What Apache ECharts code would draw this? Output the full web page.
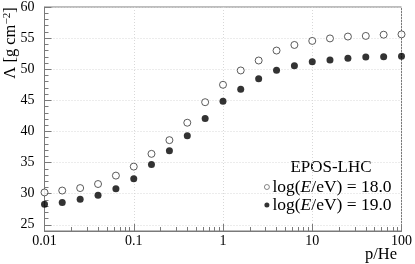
<!DOCTYPE html>
<html>
<head>
<meta charset="utf-8">
<script src="https://cdn.jsdelivr.net/npm/echarts@6/dist/echarts.min.js"></script>
<style>html,body{margin:0;padding:0;background:#fff}#c{width:415px;height:264px}</style>
</head>
<body>
<div id="c"></div>
<script>
// ---- data ----
const xValues = [0.01, 0.0158, 0.0251, 0.0398, 0.0631, 0.1, 0.158, 0.251, 0.398, 0.631, 1, 1.58, 2.51, 3.98, 6.31, 10, 15.8, 25.1, 39.8, 63.1, 100];
const lambda18 = [30.2, 30.5, 30.9, 31.55, 32.9, 34.35, 36.4, 38.6, 41.4, 44.7, 47.5, 49.8, 51.4, 53.0, 53.9, 54.55, 54.95, 55.25, 55.35, 55.55, 55.6];
const lambda19 = [28.3, 28.6, 29.1, 29.75, 30.8, 32.4, 34.7, 36.9, 39.3, 42.1, 44.85, 46.8, 48.45, 49.85, 50.55, 51.2, 51.5, 51.75, 51.95, 52.0, 52.1];
const xMajorTicks = [0.01, 0.1, 1, 10, 100];
const xTickLabels = ['0.01', '0.1', '1', '10', '100'];
const xMinorTicks = [0.02,0.03,0.04,0.05,0.06,0.07,0.08,0.09,0.2,0.3,0.4,0.5,0.6,0.7,0.8,0.9,2,3,4,5,6,7,8,9,20,30,40,50,60,70,80,90];
const yMajorTicks = [25, 30, 35, 40, 45, 50, 55, 60];
const seriesNames = ['log(E/eV) = 18.0', 'log(E/eV) = 19.0'];
const legendTitle = 'EPOS-LHC';

const FONT = 'Liberation Serif';
const AX = '#7a7a7a';
const chart = echarts.init(document.getElementById('c'), null, {renderer: 'canvas'});
const pairs = ys => xValues.map((x, i) => [x, ys[i]]);

const gridCfg = {left: 44.5, right: 11.5, top: 5.3, bottom: 33};
chart.setOption({
  animation: false,
  grid: Object.assign({show: true, borderColor: AX, borderWidth: 1, backgroundColor: 'transparent'}, gridCfg),
  xAxis: [{
    type: 'log', logBase: 10, min: 0.01, max: 100,
    axisLine: {show: true, lineStyle: {color: AX, width: 1}},
    axisTick: {show: true, inside: true, length: 7, customValues: xMajorTicks, lineStyle: {color: AX}},
    axisLabel: {show: true, margin: 3, customValues: xMajorTicks, fontFamily: FONT, fontSize: 14, color: '#000',
      formatter: v => { const i = xMajorTicks.findIndex(t => Math.abs(Math.log10(t) - Math.log10(v)) < 1e-6); return i >= 0 ? xTickLabels[i] : ''; }},
    splitLine: {show: true, lineStyle: {color: '#d8d8d8', type: [1, 2], width: 1}},
    minorTick: {show: false}
  }, {
    type: 'log', logBase: 10, min: 0.01, max: 100, gridIndex: 0, position: 'bottom',
    axisLine: {show: false},
    axisTick: {show: true, inside: true, length: 4, customValues: xMinorTicks, lineStyle: {color: AX}},
    axisLabel: {show: false},
    splitLine: {show: false}
  }],
  yAxis: [{
    type: 'value', min: 24, max: 60,
    axisLine: {show: true, lineStyle: {color: AX, width: 1}},
    axisTick: {show: true, inside: true, length: 7, customValues: yMajorTicks, lineStyle: {color: AX}},
    axisLabel: {show: true, margin: 10, customValues: yMajorTicks, fontFamily: FONT, fontSize: 14, color: '#000'},
    splitLine: {show: true, lineStyle: {color: '#d8d8d8', type: [1, 2], width: 1}}
  }, {
    type: 'value', min: 24, max: 60, interval: 1, position: 'left',
    axisLine: {show: false},
    axisTick: {show: true, inside: true, length: 4, lineStyle: {color: AX}},
    axisLabel: {show: false},
    splitLine: {show: false}
  }],
  legend: {
    orient: 'vertical', left: 259, top: 173, itemGap: 0, itemWidth: 5, itemHeight: 5,
    icon: 'circle',
    data: [
      {name: seriesNames[0], itemStyle: {color: '#fff', borderColor: '#444', borderWidth: 0.8}},
      {name: seriesNames[1], itemStyle: {color: '#000', borderWidth: 0}}
    ],
    formatter: name => name === seriesNames[0]
      ? '{n|log(}{i|E}{n|/eV) = 18.0}'
      : '{n|log(}{i|E}{n|/eV) = 19.0}',
    textStyle: {fontFamily: FONT, fontSize: 17.5, color: '#000', lineHeight: 16.5, padding: [0, 0, 0, -2],
      rich: {n: {fontFamily: FONT, fontSize: 17.5, lineHeight: 16.5}, i: {fontFamily: FONT, fontSize: 17.5, fontStyle: 'italic', lineHeight: 16.5}}}
  },
  series: [{
    name: seriesNames[0], type: 'scatter', xAxisIndex: 0, yAxisIndex: 0,
    symbol: 'circle', symbolSize: 7, data: pairs(lambda18),
    itemStyle: {color: '#fff', borderColor: '#333', borderWidth: 1},
    z: 5
  }, {
    name: seriesNames[1], type: 'scatter', xAxisIndex: 0, yAxisIndex: 0,
    symbol: 'circle', symbolSize: 7, data: pairs(lambda19),
    itemStyle: {color: '#000', borderColor: '#000', borderWidth: 0},
    z: 5
  }],
  graphic: [{
    type: 'text', x: 331, y: 168,
    style: {text: legendTitle, fontFamily: FONT, fontSize: 17, fill: '#000', align: 'center', verticalAlign: 'middle'}
  }, {
    type: 'text', x: 397, y: 255,
    style: {text: 'p/He', fontFamily: FONT, fontSize: 16.5, fill: '#000', align: 'right', verticalAlign: 'middle'}
  }, {
    type: 'text', x: 11, y: 43, rotation: Math.PI / 2,
    style: {
      text: '{a|Λ [g cm}{s|−2}{a|]}', align: 'center', verticalAlign: 'middle', fill: '#000',
      rich: {a: {fontFamily: FONT, fontSize: 16.5, lineHeight: 18, fill: '#000'},
             s: {fontFamily: FONT, fontSize: 11, lineHeight: 18, verticalAlign: 'top', fill: '#000'}}
    }
  }]
});
</script>
</body>
</html>
